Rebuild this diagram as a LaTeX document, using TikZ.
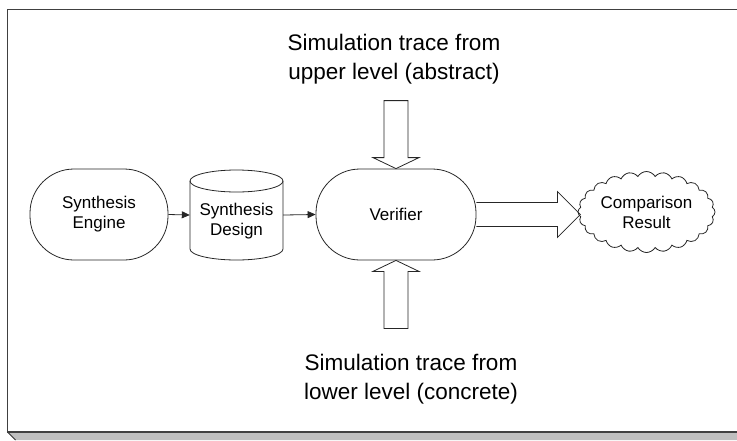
\documentclass[tikz,border=0pt]{standalone}
\usepackage{fontspec}
\setmainfont{Liberation Sans}
\usetikzlibrary{arrows.meta,shapes.symbols,calc}

\tikzset{
  line/.style={draw=black!85, line width=0.8pt},
  terminal/.style={line, rounded corners=44pt, minimum width=#1, minimum height=91pt,
    inner sep=0pt, align=center, font=\fontsize{17}{20}\selectfont},
  flow/.style={line, -{Triangle[length=8pt,width=7pt]}},
  bigarrow/.style={line, line join=miter},
  caption/.style={align=center, inner sep=0pt, font=\fontsize{22.5}{29}\selectfont},
  smalltext/.style={align=center, inner sep=0pt, font=\fontsize{17}{20}\selectfont},
}

\begin{document}
\begin{tikzpicture}[x=1pt, y=-1pt]
  \useasboundingbox (0,0) rectangle (737,440);

  % page shadow and page border
  \fill[black!25] (7.5,432) -- (15.5,440) -- (737,440) -- (737,432) -- cycle;
  \draw[black!80, line width=1pt] (7.5,432) -- (15.5,440);
  \draw[black!75, line width=1.3pt] (737,9.5) -- (7.5,9.5) -- (7.5,432) -- (737,432);

  % process nodes
  \node[terminal=138pt] (engine) at (99,214.5) {Synthesis\\Engine};
  \node[terminal=160pt] (verifier) at (396,214.5) {Verifier};

  % data store drawn as a cylinder
  \node[minimum width=93pt, minimum height=90pt, inner sep=0pt] (design) at (236.5,215) {};
  \draw[line] (190,181) -- (190,249)
    arc[start angle=180, end angle=0, x radius=46.5, y radius=11] -- (283,181);
  \draw[line] (236.5,181) ellipse [x radius=46.5, y radius=11];
  \node[smalltext] (designlabel) at (236.5,221) {Synthesis\\Design};

  % result cloud
  \node[line, cloud, cloud puffs=24, cloud puff arc=120, cloud ignores aspect,
        minimum width=137pt, minimum height=81pt, inner sep=0pt, smalltext]
        (result) at (646.5,212) {Comparison\\Result};

  % trace captions
  \node[caption] (upper) at (394,59) {Simulation trace from\\upper level (abstract)};
  \node[caption] (lower) at (411,379) {Simulation trace from\\lower level (concrete)};

  % thin flow arrows
  \draw[flow] (engine.east) -- (design.west);
  \draw[flow] (design.east) -- (verifier.west);

  % block arrows feeding and leaving the verifier
  \draw[bigarrow] (verifier.north) -- ++(-23,-11) -- ++(11,0) -- ++(0,-57)
    -- ++(24,0) -- ++(0,57) -- ++(11,0) -- cycle;
  \draw[bigarrow] (verifier.south) -- ++(-23,11) -- ++(11,0) -- ++(0,57)
    -- ++(24,0) -- ++(0,-57) -- ++(11,0) -- cycle;
  \draw[bigarrow] ($(verifier.east)+(0,-12)$) -- ++(81,0) -- ++(0,-11)
    -- ++(23,23) -- ++(-23,23) -- ++(0,-11) -- ++(-81,0);
\end{tikzpicture}
\end{document}
